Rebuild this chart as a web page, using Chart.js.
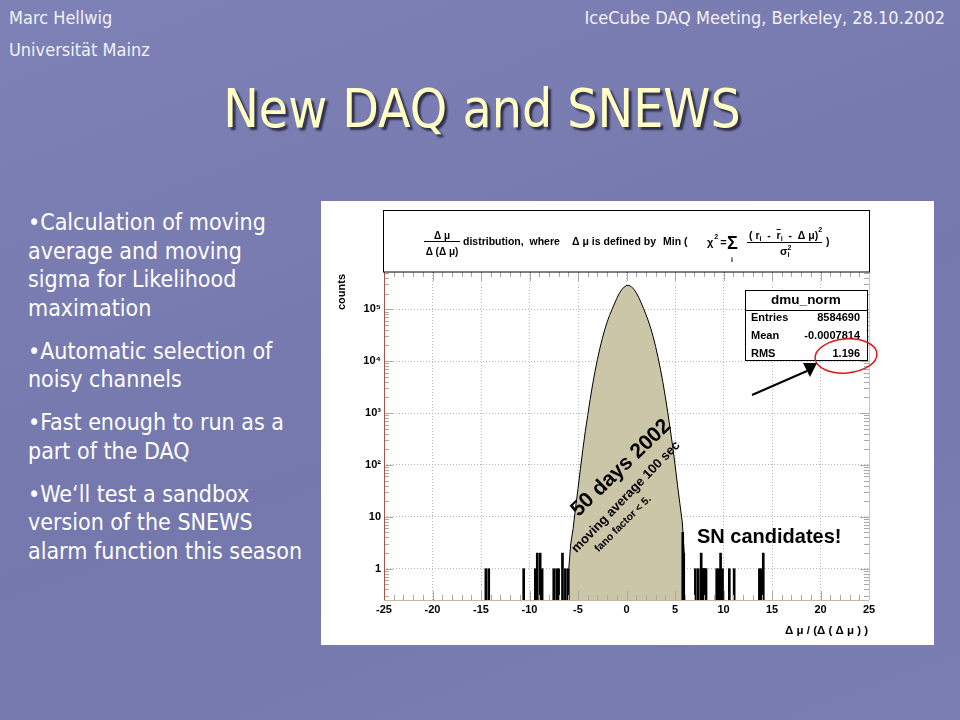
<!DOCTYPE html>
<html lang="de">
<head>
<meta charset="UTF-8">
<title>New DAQ and SNEWS</title>
<script src="https://cdn.jsdelivr.net/npm/chart.js"></script>
<style>
  html, body { margin: 0; padding: 0; }
  body {
    width: 960px; height: 720px; overflow: hidden; position: relative;
    background: linear-gradient(160deg, #7e81b5 0%, #7578ad 55%, #7b7eb2 100%);
    font-family: "DejaVu Sans Condensed", "DejaVu Sans", sans-serif;
    font-stretch: condensed;
    color: #fff;
  }
  .hdr { position: absolute; font-size: 18px; line-height: 18px; color: #f2f2f2; white-space: nowrap; }
  #author { left: 9px; top: 9px; }
  #uni { left: 9px; top: 41px; }
  #meeting { right: 15px; top: 9px; }
  h1 {
    position: absolute; left: 0; width: 964px; top: 82px; margin: 0;
    text-align: center; font-weight: normal; font-size: 53px; line-height: 53px;
    color: #ffffc4; text-shadow: 3px 3px 2px #30304a;
  }
  .bullets { position: absolute; left: 28px; top: 208px; font-size: 23px; line-height: 28.5px; }
  .bullets p { margin: 0 0 14.5px 0; white-space: nowrap; }
  .fig { position: absolute; left: 321px; top: 201px; width: 613px; height: 444px; background: #fff; }
</style>
</head>
<body>
  <div class="hdr" id="author">Marc Hellwig</div>
  <div class="hdr" id="uni">Universität Mainz</div>
  <div class="hdr" id="meeting">IceCube DAQ Meeting, Berkeley, 28.10.2002</div>
  <h1>New DAQ and SNEWS</h1>

  <div class="bullets">
    <p>•Calculation of moving<br>average and moving<br>sigma for Likelihood<br>maximation</p>
    <p>•Automatic selection of<br>noisy channels</p>
    <p>•Fast enough to run as a<br>part of the DAQ</p>
    <p>•We‘ll test a sandbox<br>version of the SNEWS<br>alarm function this season</p>
  </div>

  <div class="fig">
    <canvas id="chart" width="613" height="444" style="width:613px;height:444px"></canvas>
  </div>

<script>
  // histogramm dmu_norm (Hauptverteilung)
  const distX = [-5.95, -5.75, -5.5, -5.25, -5.0, -4.75, -4.5, -4.25, -4.0, -3.75, -3.5, -3.25,
                 -3.0, -2.75, -2.5, -2.25, -2.0, -1.75, -1.5, -1.25, -1.0, -0.75, -0.5, -0.25,
                 0.0, 0.25, 0.5, 0.75, 1.0, 1.25, 1.5, 1.75, 2.0, 2.25, 2.5, 2.75,
                 3.0, 3.25, 3.5, 3.75, 4.0, 4.25, 4.5, 4.75, 5.0, 5.25, 5.5, 5.75, 5.95];
  const distCounts = [1, 3, 6, 15, 35, 85, 200, 440, 890, 1820, 3470, 6300,
                      10700, 17400, 26900, 39800, 56200, 75900, 97700, 126000, 162000, 200000, 237000, 266000,
                      286000, 287000, 271000, 243000, 208000, 170000, 134000, 104000, 79600, 59400, 42700, 29400,
                      19100, 11800, 6980, 3910, 2060, 1030, 504, 234, 102, 42, 18, 8, 2];

  // einzelne Bins ausserhalb (SN Kandidaten und Rauschen)
  const spikeX = [-14.5, -14.2, -10.6, -9.4, -9.2, -8.9, -8.7, -7.5, -7.2, -7.0, -6.6, -6.3, -6.0,
                  5.8, 5.9, 7.1, 7.4, 7.7, 7.8, 7.9, 8.0, 8.1, 8.2, 9.3, 9.5, 9.7, 9.9, 10.6, 11.1, 13.7, 13.9, 14.1];
  const spikeCounts = [1, 1, 1, 1, 2, 2, 1, 1, 1, 1, 2, 1, 1,
                       5, 2, 1, 1, 2, 1, 1, 1, 1, 1, 1, 1, 2, 1, 1, 1, 1, 1, 2];

  const xTicks = [-25, -20, -15, -10, -5, 0, 5, 10, 15, 20, 25];
  const yTicks = [1, 10, 100, 1000, 10000, 100000];
  const yTickLabels = ['1', '10', '10²', '10³', '10⁴', '10⁵'];

  const statLabels = ['Entries', 'Mean', 'RMS'];
  const statValues = ['8584690', '-0.0007814', '1.196'];

  const AX = "'Liberation Sans', Arial, sans-serif";

  function txt(ctx, s, x, y, size, align, base) {
    ctx.font = 'bold ' + size + 'px ' + AX;
    ctx.textAlign = align || 'left';
    ctx.textBaseline = base || 'middle';
    ctx.fillText(s, x, y);
    return ctx.measureText(s).width;
  }

  function seg(ctx, x1, y1, x2, y2) {
    ctx.beginPath();
    ctx.moveTo(x1, y1);
    ctx.lineTo(x2, y2);
    ctx.stroke();
  }

  // Rahmen, Achsenstriche, Titelbox, Statistikbox, Beschriftungen
  const rootDeko = {
    id: 'rootDeko',
    afterDraw(chart) {
      const ctx = chart.ctx;
      const a = chart.chartArea;
      const xs = chart.scales.x;
      const ys = chart.scales.y;
      ctx.save();
      ctx.lineWidth = 1;

      // kleine Striche x
      ctx.strokeStyle = '#a8a8a8';
      for (let v = -25; v <= 25; v++) {
        const px = Math.round(xs.getPixelForValue(v)) + 0.5;
        const len = v % 5 === 0 ? 9 : 5;
        seg(ctx, px, a.bottom, px, a.bottom - len);
        seg(ctx, px, a.top, px, a.top + len);
      }
      // kleine Striche y
      for (let e = -1; e <= 5; e++) {
        for (let k = 1; k <= 9; k++) {
          const v = k * Math.pow(10, e);
          if (v < ys.min || v > ys.max) continue;
          const py = Math.round(ys.getPixelForValue(v)) + 0.5;
          const len = k === 1 ? 9 : 5;
          seg(ctx, a.left, py, a.left + len, py);
          seg(ctx, a.right, py, a.right - len, py);
        }
      }
      // Rahmen
      ctx.strokeStyle = '#c4b9a6';
      seg(ctx, a.left, a.bottom + 0.5, a.right, a.bottom + 0.5);
      ctx.strokeStyle = '#c8c8c8';
      seg(ctx, a.right + 0.5, a.top, a.right + 0.5, a.bottom);
      ctx.strokeStyle = '#a0584c';
      seg(ctx, a.left + 0.5, a.top, a.left + 0.5, a.bottom);

      // Titelbox
      ctx.fillStyle = '#fff';
      ctx.fillRect(a.left - 1, 9, a.right - a.left + 1, a.top - 9);
      ctx.strokeStyle = '#000';
      ctx.strokeRect(a.left - 0.5, 9.5, a.right - a.left + 1, a.top - 9.5);
      ctx.fillStyle = '#000';
      txt(ctx, 'Δ μ', 121, 35, 10, 'center');
      seg(ctx, 103, 40.5, 139, 40.5);
      txt(ctx, 'Δ (Δ μ)', 121, 51, 10, 'center');
      txt(ctx, 'distribution,  where', 142, 41, 10.5);
      txt(ctx, 'Δ μ is defined by', 251, 41, 10.5);
      txt(ctx, 'Min (', 342, 41, 10.5);
      let x = 386;
      x += txt(ctx, 'χ', x, 42, 11);
      txt(ctx, '2', x + 1, 36, 7);
      txt(ctx, '=', x + 7, 42, 11);
      txt(ctx, 'Σ', 406, 43, 18);
      txt(ctx, 'i', 410, 59, 7);
      // Bruch (r_i - r̄_i - Δμ)^2 / σ_i^2
      x = 428;
      x += txt(ctx, '( r', x, 35, 10.5);
      x += txt(ctx, 'i', x, 38, 7);
      x += txt(ctx, '  -  ', x, 35, 10.5);
      const rw = txt(ctx, 'r', x, 35, 10.5);
      seg(ctx, x, 28.5, x + rw, 28.5);
      x += rw;
      x += txt(ctx, 'i', x, 38, 7);
      x += txt(ctx, '  -  Δ μ)', x, 35, 10.5);
      txt(ctx, '2', x, 29, 7);
      seg(ctx, 426, 41.5, 501, 41.5);
      const sw = txt(ctx, 'σ', 459, 51, 11);
      txt(ctx, '2', 459 + sw, 47, 7);
      txt(ctx, 'i', 459 + sw, 54, 7);
      txt(ctx, ')', 505, 41, 10.5);

      // Statistikbox
      const bx = 424, by = 89, bw = 122, bh = 70;
      ctx.fillStyle = '#fff';
      ctx.fillRect(bx, by, bw, bh);
      ctx.strokeRect(bx + 0.5, by + 0.5, bw, bh);
      seg(ctx, bx, by + 20.5, bx + bw, by + 20.5);
      ctx.fillStyle = '#000';
      txt(ctx, 'dmu_norm', bx + bw / 2, by + 10.5, 13.5, 'center');
      statLabels.forEach((l, i) => {
        txt(ctx, l, bx + 6, by + 28 + i * 18, 11);
        txt(ctx, statValues[i], bx + bw - 7, by + 28 + i * 18, 11, 'right');
      });

      // roter Kreis um RMS und Pfeil
      ctx.strokeStyle = '#e01818';
      ctx.lineWidth = 1.5;
      ctx.beginPath();
      ctx.ellipse(525, 155, 31, 17, -0.08, 0, Math.PI * 2);
      ctx.stroke();
      ctx.strokeStyle = '#000';
      ctx.lineWidth = 2;
      seg(ctx, 431, 194, 486, 170);
      ctx.beginPath();
      ctx.moveTo(482, 162);
      ctx.lineTo(496, 162);
      ctx.lineTo(489, 176);
      ctx.closePath();
      ctx.fill();

      // Beschriftungen im Plot
      txt(ctx, 'SN candidates!', 376, 342, 20, 'left', 'alphabetic');
      const rot = (s, cx, cy, size, ang) => {
        ctx.save();
        ctx.translate(cx, cy);
        ctx.rotate(ang * Math.PI / 180);
        txt(ctx, s, 0, 0, size, 'center');
        ctx.restore();
      };
      rot('50 days 2002', 300, 267, 21, -44);
      rot('moving average 100 sec', 305, 296, 13, -46);
      rot('fano factor < 5.', 302, 323, 10.5, -45);

      // Achsentitel
      rot('counts', 21, 91, 11, -90);
      txt(ctx, 'Δ μ / (Δ ( Δ μ ) )', a.right - 1, 430, 11.5, 'right');

      ctx.restore();
    }
  };

  const ctx = document.getElementById('chart').getContext('2d');
  const chart = new Chart(ctx, {
    type: 'line',
    data: {
      datasets: [
        {
          type: 'bar',
          label: 'spikes',
          data: spikeX.map((v, i) => ({ x: v, y: spikeCounts[i] })),
          backgroundColor: '#000',
          barThickness: 2,
        },
        {
          type: 'line',
          label: 'dmu_norm',
          data: distX.map((v, i) => ({ x: v, y: distCounts[i] })),
          borderColor: '#000',
          borderWidth: 1,
          backgroundColor: '#ccc6a9',
          fill: 'start',
          pointRadius: 0,
          tension: 0,
        }
      ]
    },
    options: {
      responsive: false,
      animation: false,
      events: [],
      layout: { padding: { top: 71, left: 0, right: 65, bottom: 0 } },
      plugins: { legend: { display: false }, tooltip: { enabled: false } },
      scales: {
        x: {
          type: 'linear', min: -25, max: 25, bounds: 'data', offset: false,
          afterBuildTicks: s => { s.ticks = xTicks.map(v => ({ value: v })); },
          afterFit: s => { s.height = 45; },
          grid: { color: '#b8b8b8', drawTicks: false, offset: false },
          border: { display: false, dash: [1, 2] },
          ticks: { font: { family: AX, size: 11, weight: 'bold' }, color: '#000', padding: 3, maxRotation: 0, autoSkip: false }
        },
        y: {
          type: 'logarithmic', min: 0.25, max: 5.2e5, bounds: 'data',
          afterBuildTicks: s => { s.ticks = yTicks.map(v => ({ value: v })); },
          afterFit: s => { s.width = 63; },
          grid: { color: '#b8b8b8', drawTicks: false },
          border: { display: false, dash: [1, 2] },
          ticks: {
            font: { family: AX, size: 11, weight: 'bold' }, color: '#000', padding: 3, autoSkip: false,
            callback: (v, i) => yTickLabels[i]
          }
        }
      }
    },
    plugins: [rootDeko]
  });
</script>
</body>
</html>
